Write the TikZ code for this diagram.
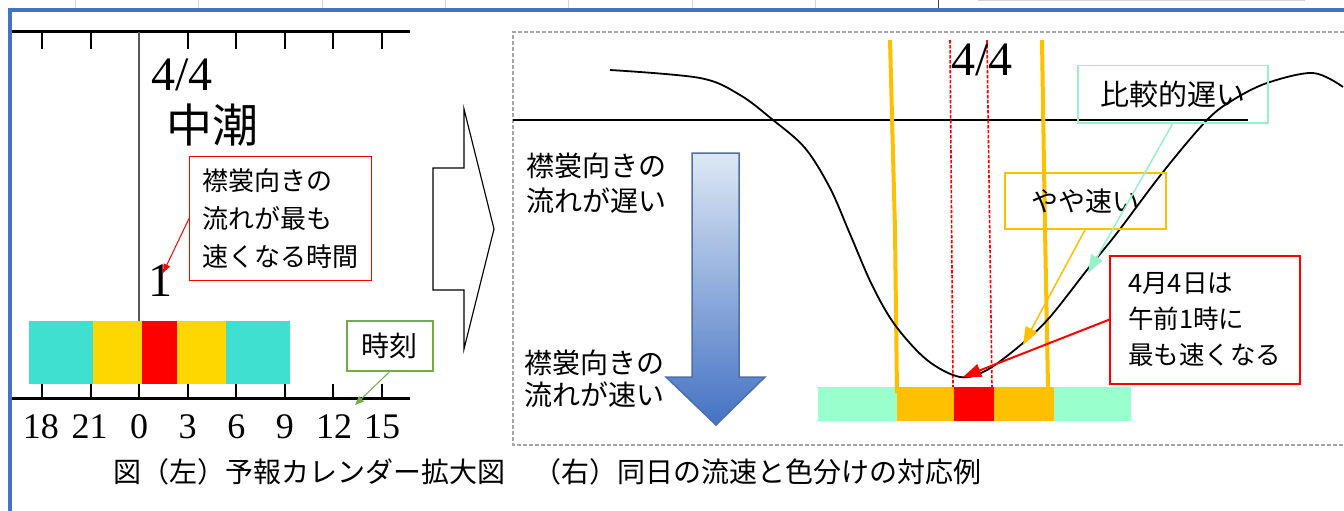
\documentclass[tikz,border=0pt]{standalone}
\usepackage{fontspec}
\setmainfont{Liberation Serif}
\newfontfamily\jp{Noto Sans CJK JP}
\usetikzlibrary{arrows.meta}
\definecolor{turq}{HTML}{40E0D0}
\definecolor{gold}{HTML}{FFD700}
\definecolor{mint}{HTML}{99FFCC}
\definecolor{mintline}{HTML}{96F2CA}
\definecolor{orng}{HTML}{FFC000}
\definecolor{framec}{HTML}{4472C4}
\definecolor{gridc}{HTML}{D4D4D4}
\definecolor{boxgray}{HTML}{A6A6A6}
\definecolor{arrtop}{HTML}{DDE8F4}
\definecolor{arrbot}{HTML}{4472C4}
\definecolor{arredge}{HTML}{4F6FA8}
\definecolor{greenc}{HTML}{70AD47}
\begin{document}
\begin{tikzpicture}[x=1pt,y=-1pt,
  axisline/.style={line width=3pt, black},
  tickmark/.style={line width=2pt, black},
  numlbl/.style={anchor=base, inner sep=0pt, font=\fontsize{36}{36}\selectfont},
  bigserif/.style={inner sep=0pt, font=\fontsize{48}{48}\selectfont},
  jptext/.style={inner sep=0pt, align=left},
  labelbox/.style={inner sep=0pt, align=left, anchor=north west},
  orline/.style={orng, line width=4pt},
  reddash/.style={red, line width=1.6pt, dash pattern=on 3.5pt off 1.5pt},
  bigarr/.style={-{Triangle[length=18pt,width=13pt]}},
  smallarr/.style={-{Triangle[length=9pt,width=7pt]}}
]
\useasboundingbox (0,0) rectangle (1344,511);
\fill[white] (0,0) rectangle (1344,511);

% spreadsheet grid at the top
\foreach \gx in {75,198,322,445,568,692,815}
  \draw[gridc, line width=0.8pt] (\gx,0) -- (\gx,9);
\draw[black!75, line width=1pt] (938,0) -- (938,9);
\draw[gridc, line width=1pt] (978,0.5) -- (1305,0.5);

% blue frame
\draw[framec, line width=4pt] (8,10.5) -- (1344,10.5);
\draw[framec, line width=4.5pt] (10,8.5) -- (10,511);

% ---------------- left panel ----------------
\draw[axisline] (12,32) -- (410,32);
\foreach \tx in {42,90.6,139.1,187.7,236.3,284.9,333.4,382}
  \draw[tickmark] (\tx,32) -- (\tx,49);
\draw[black!65, line width=1.5pt] (139,32) -- (139,321);

\fill[turq] (29,321) rectangle (93,384);
\fill[gold] (93,321) rectangle (142,384);
\fill[red] (142,321) rectangle (177,384);
\fill[gold] (177,321) rectangle (226,384);
\fill[turq] (226,321) rectangle (290,384);

\draw[axisline] (12,398) -- (410,398);
\foreach \tx in {42,90.6,139.1,187.7,236.3,284.9,333.4,382}
  \draw[tickmark] (\tx,384) -- (\tx,398);
\foreach \v/\tx in {18/41,21/89.5,0/139.1,3/187.7,6/236.3,9/284.9,12/334,15/382}
  \node[numlbl] (n\v) at (\tx,438) {\v};

\node[bigserif, anchor=base west] (dateL) at (151,91) {4/4};
\node[inner sep=0pt, font=\jp\fontsize{46}{46}\selectfont] (chushio) at (212,125) {中潮};
\node[bigserif, anchor=base] (one) at (160,296) {1};

\node[labelbox, draw=red, line width=1pt, minimum width=182pt, minimum height=124pt,
      font=\jp\fontsize{26}{38}\selectfont] (rb1) at (189,156)
  {襟裳向きの\\流れが最も\\速くなる時間};
\coordinate (onetip) at (163,273);
\draw[red, line width=1pt, smallarr] (rb1.west) -- (onetip);

\node[labelbox, draw=greenc, line width=1.5pt, align=center, minimum width=86pt, minimum height=50pt,
      font=\jp\fontsize{28}{28}\selectfont] (tb) at (346,320) {時刻};
\coordinate (tbtip) at (355,405);
\draw[greenc, line width=1pt, smallarr] (tb.south) -- (tbtip);

% hollow block arrow
\draw[black, line width=1.2pt, fill=white]
  (433,168) -- (464,168) -- (464,109) -- (494,229) -- (464,349) -- (464,290) -- (433,290) -- cycle;

% ---------------- right panel ----------------
\draw[boxgray, line width=1.2pt, dash pattern=on 4pt off 2pt]
  (1344,32) -- (513,32) -- (513,445) -- (1344,445);
\draw[black, line width=1.6pt] (513,120) -- (1248,120);

\fill[mint] (818,387) rectangle (897,421);
\fill[orng] (897,387) rectangle (954,421);
\fill[red] (954,387) rectangle (994,421);
\fill[orng] (994,387) rectangle (1054,421);
\fill[mint] (1054,387) rectangle (1131,421);

\draw[orline] (890,40) -- (895,230) -- (897,393);
\draw[orline] (1042,40) -- (1045,230) -- (1048,387);
\draw[reddash] (950,40) -- (953,387);
\draw[reddash] (987,40) -- (992,387);

\draw[black, line width=1.8pt] plot[smooth, tension=0.55] coordinates {
  (610,70) (700,78) (740,95) (773,120) (805,148) (830,188) (850,234) (872,285)
  (895,325) (927,360) (960,377) (987,370) (1023,343) (1050,317) (1087,270)
  (1117,233) (1163,172) (1207,120) (1233,100) (1267,83) (1313,73) (1343,87)};

\node[bigserif, anchor=base west] (dateR) at (951,75) {4/4};

\node[jptext, anchor=west, font=\jp\fontsize{28}{35}\selectfont] (slow) at (526,183)
  {襟裳向きの\\流れが遅い};
\node[jptext, anchor=west, font=\jp\fontsize{28}{32}\selectfont] (fast) at (524,379)
  {襟裳向きの\\流れが速い};

\shadedraw[top color=arrtop, bottom color=arrbot, draw=arredge, line width=1.5pt]
  (692,153) -- (739,153) -- (739,377) -- (765,377) -- (716,425) -- (666,377) -- (692,377) -- cycle;

\node[labelbox, draw=mintline, line width=1.5pt, align=center, minimum width=190pt, minimum height=57pt,
      font=\jp\fontsize{29}{29}\selectfont] (mb) at (1077,65) {比較的遅い};
\node[labelbox, draw=orng, line width=1.5pt, align=center, minimum width=161pt, minimum height=56pt,
      font=\jp\fontsize{27}{27}\selectfont] (ob) at (1004,172) {やや速い};
\node[labelbox, draw=red, line width=1.5pt, minimum width=190pt, minimum height=128pt,
      font=\jp\fontsize{25.5}{36}\selectfont] (rb2) at (1109,255)
  {4月4日は\\午前1時に\\最も速くなる};

\coordinate (mtip) at (1088,273);
\coordinate (otip) at (1023,345);
\coordinate (rtip) at (963,377);
\draw[mintline, line width=1.5pt, bigarr] (mb.south) -- (mtip);
\draw[orng, line width=1.5pt, bigarr] (ob.south) -- (otip);
\draw[red, line width=2pt, bigarr] (rb2.west) -- (rtip);

% caption
\node[inner sep=0pt, anchor=west, font=\jp\fontsize{28}{28}\selectfont] (cap) at (113,472)
  {図（左）予報カレンダー拡大図　（右）同日の流速と色分けの対応例};
\end{tikzpicture}
\end{document}
